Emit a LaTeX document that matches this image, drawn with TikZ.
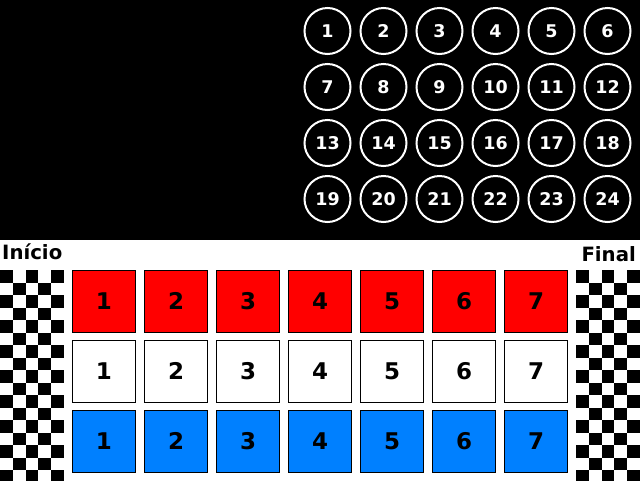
\documentclass[tikz,border=0pt]{standalone}
\usepackage{fontspec}
\setmainfont{DejaVu Sans}
\definecolor{carred}{RGB}{255,0,0}
\definecolor{carblue}{RGB}{0,128,255}
\begin{document}
\begin{tikzpicture}[x=1pt,y=-1pt,
   casa/.style={circle,draw=white,line width=2pt,minimum size=46pt,inner sep=0pt,
                text=white,text height=12.8pt,text depth=0pt,
                font=\fontsize{17.5}{17.5}\selectfont\bfseries},
   pista/.style={rectangle,draw=black,line width=1.3pt,minimum width=62.5pt,
                 minimum height=61.5pt,inner sep=0pt,text height=16.8pt,text depth=0pt,
                 font=\fontsize{23}{23}\selectfont\bfseries},
   rotulo/.style={inner sep=0pt,font=\fontsize{19.7}{19.7}\selectfont\bfseries}]

   \useasboundingbox (0,0) rectangle (640,480);
   \fill [black] (0,0) rectangle (640,240);
   \fill [white] (0,240) rectangle (640,480);

   % casas numeradas
   \foreach \row in {0,...,3}
     \foreach \col in {0,...,5} {
       \pgfmathtruncatemacro\num{6*\row+\col+1}
       \node (c\num) at (327.5+56*\col,31+56*\row) [casa] {\num};
     }

   \node (Inicio) at (2,259.5) [rotulo,anchor=base west] {Início};
   \node (Final) at (636,261) [rotulo,anchor=base east] {Final};

   % bandeiras
   \foreach \x in {0,576} {
     \begin{scope}
       \clip (\x,270) rectangle (\x+64,480);
       \foreach \r in {0,...,16}
         \foreach \c in {0,...,4} {
           \pgfmathtruncatemacro\k{mod(\r+\c,2)}
           \ifnum\k=0
             \fill [black] (\x+12.8*\c,270+12.5*\r) rectangle (\x+12.8*\c+12.8,270+12.5*\r+12.5);
           \fi
         }
     \end{scope}
   }

   % pistas
   \foreach \n in {1,...,7} {
     \node (r\n) at (32+72*\n,301.5) [pista,fill=carred] {\n};
     \node (w\n) at (32+72*\n,371.5) [pista,fill=white] {\n};
     \node (b\n) at (32+72*\n,441.5) [pista,fill=carblue] {\n};
   }

\end{tikzpicture}
\end{document}
